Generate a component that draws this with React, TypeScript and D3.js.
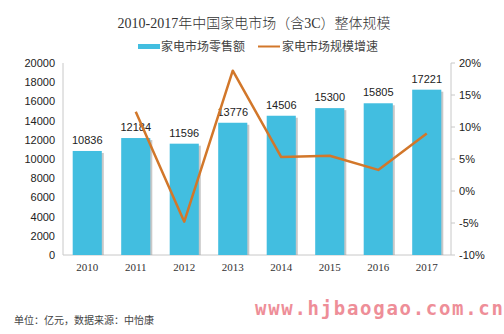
import React from "react";
import * as d3 from "d3";

const years = ["2010", "2011", "2012", "2013", "2014", "2015", "2016", "2017"];
const sales = [10836, 12184, 11596, 13776, 14506, 15300, 15805, 17221];
const growth = [null, 12.4, -4.8, 18.8, 5.3, 5.5, 3.3, 9.0];
const leftTicks = [0, 2000, 4000, 6000, 8000, 10000, 12000, 14000, 16000, 18000, 20000];
const rightTicks = [-10, -5, 0, 5, 10, 15, 20];

const W = 504, H = 334;
const left = 63, right = 451, top = 63, bottom = 255;
const barColor = "#42BEE0";
const lineColor = "#D2772A";
const sans = "'Liberation Sans', Arial, 'Noto Sans CJK SC', sans-serif";
const serif = "'Liberation Serif', 'Noto Sans CJK SC', serif";

export default function App() {
  const x = d3.scaleBand<string>().domain(years).range([left, right]).paddingInner(0.4).paddingOuter(0.2);
  const y = d3.scaleLinear().domain([0, 20000]).range([bottom, top]);
  const y2 = d3.scaleLinear().domain([-10, 20]).range([bottom, top]);
  const bw = x.bandwidth();
  const linePts = years.map((yr, i) => ({ yr, v: growth[i] })).filter((d) => d.v !== null) as { yr: string; v: number }[];
  const line = d3
    .line<{ yr: string; v: number }>()
    .x((d) => (x(d.yr) as number) + bw / 2)
    .y((d) => y2(d.v));

  return (
    <svg width={W} height={H} style={{ position: "absolute", left: 0, top: 0, background: "#fff" }}>
      <rect x={0} y={0} width={W} height={H} fill="#fff" />
      <text x={254} y={28} textAnchor="middle" fontFamily={serif} fontSize={14} fontWeight={300} fill="#333">
        2010-2017年中国家电市场（含3C）整体规模
      </text>
      {/* legend */}
      <rect x={138} y={44} width={22} height={5} fill={barColor} />
      <text x={161} y={51} fontFamily={sans} fontSize={12} fill="#444">家电市场零售额</text>
      <line x1={258} x2={280} y1={46.5} y2={46.5} stroke={lineColor} strokeWidth={2} />
      <text x={282} y={51} fontFamily={sans} fontSize={12} fill="#444">家电市场规模增速</text>

      {/* axes */}
      <line x1={left} x2={left} y1={top} y2={bottom} stroke="#C8C8C8" />
      <line x1={right} x2={right} y1={top} y2={bottom} stroke="#C8C8C8" />
      <line x1={left} x2={right} y1={bottom} y2={bottom} stroke="#C8C8C8" />
      {leftTicks.map((t) => (
        <text key={t} x={55} y={y(t) + 4} textAnchor="end" fontFamily={sans} fontSize={11} fill="#222">
          {t}
        </text>
      ))}
      {rightTicks.map((t) => (
        <g key={t}>
          <line x1={right} x2={right + 4} y1={y2(t)} y2={y2(t)} stroke="#C8C8C8" />
          <text x={459} y={y2(t) + 4} fontFamily={sans} fontSize={11} fill="#222">
            {t}%
          </text>
        </g>
      ))}

      {/* bars */}
      {years.map((yr, i) => {
        const bx = x(yr) as number;
        return (
          <g key={yr}>
            <rect x={bx + 2} y={y(sales[i]) + 2} width={bw} height={bottom - y(sales[i]) - 2} fill="#9a9a9a" opacity={0.55} />
            <rect x={bx} y={y(sales[i])} width={bw} height={bottom - y(sales[i])} fill={barColor} />
            <text x={bx + bw / 2} y={y(sales[i]) - 7} textAnchor="middle" fontFamily={sans} fontSize={11} fill="#222">
              {sales[i]}
            </text>
            <text x={bx + bw / 2} y={271} textAnchor="middle" fontFamily={serif} fontSize={11} fill="#333">
              {yr}
            </text>
          </g>
        );
      })}
      <path d={line(linePts) || ""} fill="none" stroke={lineColor} strokeWidth={2.5} strokeLinejoin="round" />

      <text x={14} y={324} fontFamily={sans} fontSize={10} fill="#444">单位：亿元，数据来源：中怡康</text>
      <text x={255} y={315} fontFamily="'DejaVu Sans Mono', monospace" fontWeight="bold" fontSize={19} letterSpacing={1.7} fill="#EE8E98">
        www.hjbaogao.com.cn
      </text>
    </svg>
  );
}
